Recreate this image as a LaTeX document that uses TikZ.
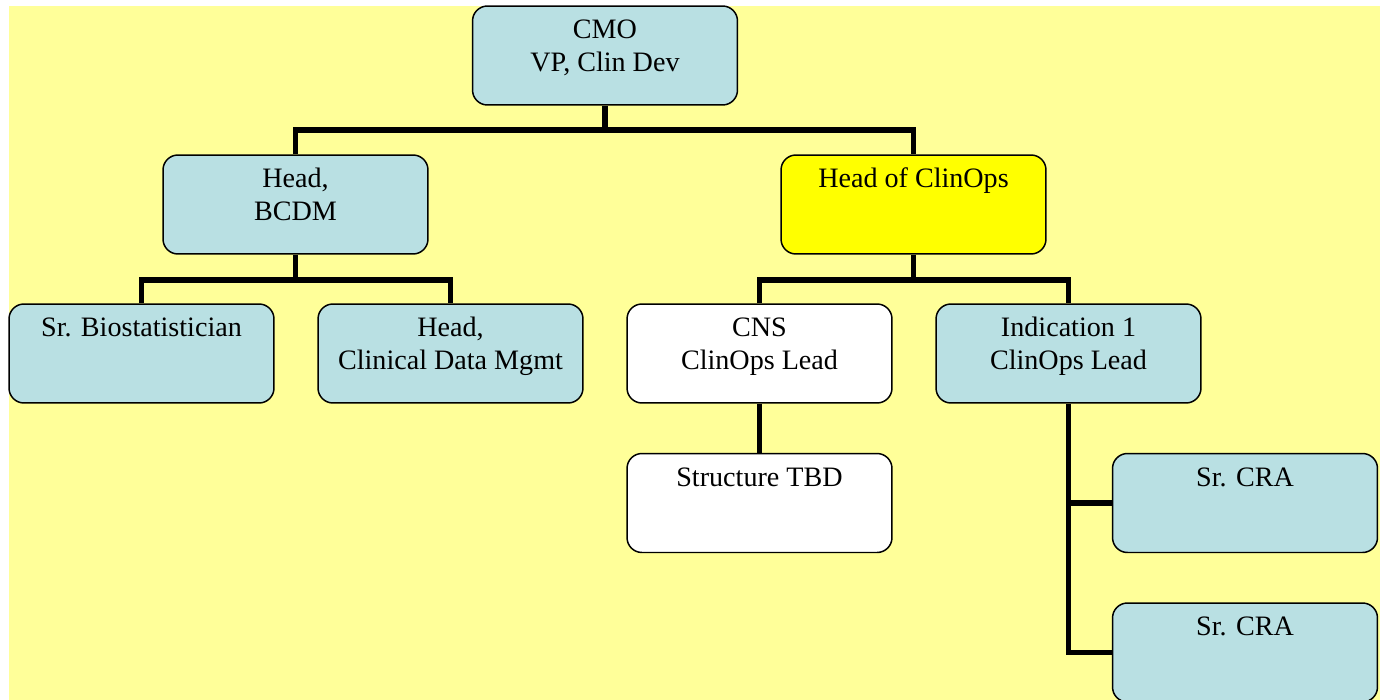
\documentclass[tikz,border=0pt]{standalone}
\usepackage{fontspec}
\setmainfont{Liberation Serif}
\definecolor{bgyellow}{RGB}{255,255,153}
\definecolor{boxblue}{RGB}{185,224,227}
\definecolor{hiyellow}{RGB}{255,255,0}
\tikzset{role/.style={draw, line width=0.85pt, rounded corners=8.5pt, fill=boxblue,
    minimum width=5.3cm, minimum height=1.98cm, inner sep=0pt},
  link/.style={line width=3.1pt}}
\newcommand{\rolebox}[1]{\parbox[c][1.98cm][t]{5.3cm}{\centering\fontsize{16}{18.7}\selectfont\rule{0pt}{18.7pt}#1}}

\begin{document}
\begin{tikzpicture}[x=0.02cm, y=-0.02cm]
        \useasboundingbox (0,0) rectangle (1380,700);
        \clip (0,0) rectangle (1380,700);
        \fill[bgyellow] (9,6) rectangle (1380,700);
        % top level
        \node[role] (cmo) at (605,55.5) {\rolebox{CMO\\VP, Clin Dev}};
        \node[role] (bcdm) at (295.5,204.5) {\rolebox{Head,\\BCDM}};
        \node[role, fill=hiyellow] (clinops) at (913.5,204.5) {\rolebox{Head of ClinOps}};
        % third row
        \node[role] (biostat) at (141.5,353.5) {\rolebox{Sr. Biostatistician}};
        \node[role] (cdm) at (450.5,353.5) {\rolebox{Head,\\Clinical Data Mgmt}};
        \node[role, fill=white] (cns) at (759.5,353.5) {\rolebox{CNS\\ClinOps Lead}};
        \node[role] (ind) at (1068.5,353.5) {\rolebox{Indication 1\\ClinOps Lead}};
        % bottom
        \node[role, fill=white] (tbd) at (759.5,503) {\rolebox{Structure TBD}};
        \node[role] (craA) at (1245,503) {\rolebox{Sr. CRA}};
        \node[role] (craB) at (1245,652.5) {\rolebox{Sr. CRA}};
        % connectors
        \coordinate (j1) at (605,130);
        \coordinate (j2) at (295.5,280);
        \coordinate (j3) at (913.5,280);
        \draw[link] (cmo.south) -- (j1);
        \draw[link] (bcdm.north) |- (j1) -| (clinops.north);
        \draw[link] (bcdm.south) -- (j2);
        \draw[link] (biostat.north) |- (j2) -| (cdm.north);
        \draw[link] (clinops.south) -- (j3);
        \draw[link] (cns.north) |- (j3) -| (ind.north);
        \draw[link] (cns.south) -- (tbd.north);
        \draw[link] (ind.south) |- (craA.west);
        \draw[link] (ind.south) |- (craB.west);
\end{tikzpicture}
\end{document}
